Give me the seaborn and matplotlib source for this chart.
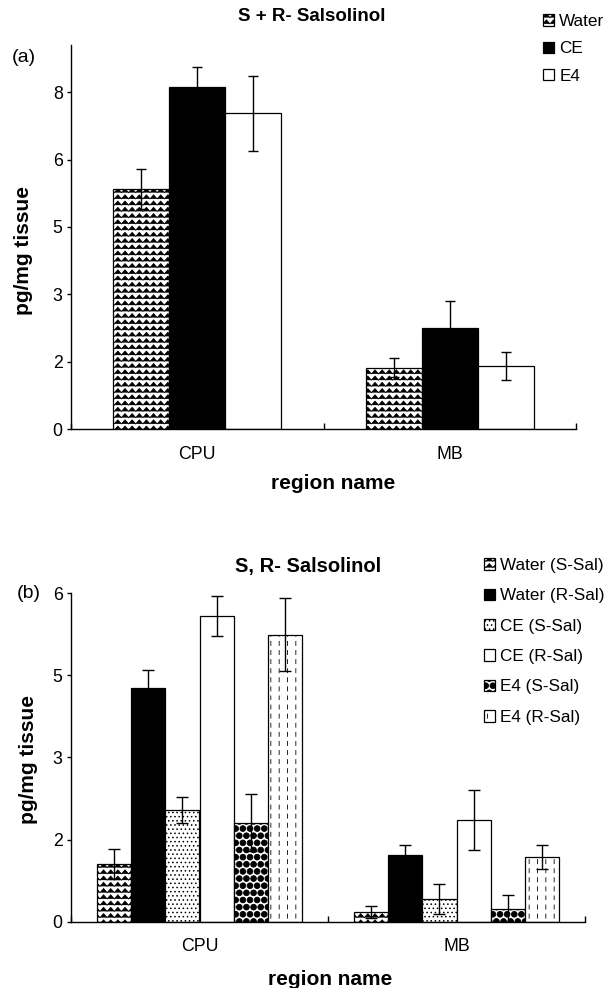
import numpy as np
import pandas as pd
import matplotlib
matplotlib.use("Agg")
import matplotlib.pyplot as plt
import seaborn as sns
import matplotlib.hatch as mhatch
from matplotlib.path import Path
from matplotlib.patches import Patch, Rectangle

# ---------------- data ----------------
REGIONS = ["CPU", "MB"]

GROUPS_A = ["Water", "CE", "E4"]
WATER_A = [5.70, 1.46]
WATER_A_ERR = [0.47, 0.23]
CE_A = [8.13, 2.39]
CE_A_ERR = [0.47, 0.65]
E4_A = [7.50, 1.50]
E4_A_ERR = [0.89, 0.34]
YTICKS_A = [0, 1.6, 3.2, 4.8, 6.4, 8.0]
YLABELS_A = ["0", "2", "3", "5", "6", "8"]

GROUPS_B = ["Water (S-Sal)", "Water (R-Sal)", "CE (S-Sal)", "CE (R-Sal)", "E4 (S-Sal)", "E4 (R-Sal)"]
WATER_S_B = [1.05, 0.18]
WATER_S_B_ERR = [0.27, 0.11]
WATER_R_B = [4.27, 1.21]
WATER_R_B_ERR = [0.33, 0.19]
CE_S_B = [2.04, 0.41]
CE_S_B_ERR = [0.23, 0.27]
CE_R_B = [5.58, 1.86]
CE_R_B_ERR = [0.37, 0.55]
E4_S_B = [1.81, 0.24]
E4_S_B_ERR = [0.52, 0.25]
E4_R_B = [5.24, 1.18]
E4_R_B_ERR = [0.66, 0.22]
YTICKS_B = [0, 1.5, 3.0, 4.5, 6.0]
YLABELS_B = ["0", "2", "3", "5", "6"]

# ---------------- custom hatches ----------------
class ZigzagHatch(mhatch.HatchPatternBase):
    """'-' draws wavy zig-zag rows."""
    def __init__(self, hatch, density):
        self.num_rows = int((hatch.count('-') + hatch.count('+')) * density * 1.4)
        self.num_teeth = int(self.num_rows * 0.875)
        self.per_row = 2 * self.num_teeth + 1
        self.num_vertices = self.num_rows * self.per_row if self.num_rows else 0

    def set_vertices_and_codes(self, vertices, codes):
        if self.num_rows == 0:
            return
        step = 1.0 / self.num_rows
        amp = step * 0.32
        xs = np.linspace(0.0, 1.0, self.per_row)
        offs = np.where(np.arange(self.per_row) % 2 == 0, -amp, amp)
        for r in range(self.num_rows):
            y0 = (r + 0.5) * step
            s = r * self.per_row
            vertices[s:s + self.per_row, 0] = xs
            vertices[s:s + self.per_row, 1] = y0 + offs
            codes[s:s + self.per_row] = Path.LINETO
            codes[s] = Path.MOVETO


class DashedVerticalHatch(mhatch.HatchPatternBase):
    """'|' draws dashed vertical lines."""
    def __init__(self, hatch, density):
        self.num_lines = int((hatch.count('|') + hatch.count('+')) * density)
        self.num_dashes = 11
        self.num_vertices = self.num_lines * self.num_dashes * 2

    def set_vertices_and_codes(self, vertices, codes):
        if self.num_lines == 0:
            return
        xs = (np.arange(self.num_lines) + 0.5) / self.num_lines
        period = 1.0 / self.num_dashes
        starts = np.arange(self.num_dashes) * period
        i = 0
        for x in xs:
            for s0 in starts:
                vertices[i] = (x, s0)
                vertices[i + 1] = (x, s0 + period * 0.45)
                codes[i] = Path.MOVETO
                codes[i + 1] = Path.LINETO
                i += 2


class BigFilledCircles(mhatch.Circles):
    """'*' draws packed filled beads."""
    size = 0.40
    filled = True

    def __init__(self, hatch, density):
        n = int(hatch.count('*') * density * 1.2)
        self.num_rows = n - (n % 2)
        super().__init__(hatch, density)


_repl = {"HorizontalHatch": ZigzagHatch, "VerticalHatch": DashedVerticalHatch,
         "Stars": BigFilledCircles}
for _i, _cls in enumerate(list(mhatch._hatch_types)):
    if _cls.__name__ in _repl:
        mhatch._hatch_types[_i] = _repl[_cls.__name__]

# ---------------- style ----------------
sns.set_style("ticks")
plt.rcParams["font.family"] = ["Liberation Sans", "DejaVu Sans"]
plt.rcParams["hatch.linewidth"] = 0.6
plt.rcParams["axes.linewidth"] = 1.0
for k in ("text.color", "axes.labelcolor", "xtick.color", "ytick.color", "axes.edgecolor"):
    plt.rcParams[k] = "black"

STYLE_A = {
    "Water": dict(fc="white", hatch="--", hc="black"),
    "CE": dict(fc="black", hatch=None, hc="black"),
    "E4": dict(fc="white", hatch=None, hc="black"),
}
STYLE_B = {
    "Water (S-Sal)": dict(fc="white", hatch="--", hc="black"),
    "Water (R-Sal)": dict(fc="black", hatch=None, hc="black"),
    "CE (S-Sal)": dict(fc="white", hatch="....", hc="black"),
    "CE (R-Sal)": dict(fc="white", hatch=None, hc="black"),
    "E4 (S-Sal)": dict(fc="white", hatch="**", hc="black"),
    "E4 (R-Sal)": dict(fc="white", hatch="||", hc="black"),
}

fig = plt.figure(figsize=(6.11, 9.88), dpi=100)
W, H = 611.0, 988.0


def add_axes_px(left, top, right, bottom):
    return fig.add_axes([left / W, 1 - bottom / H, (right - left) / W, (bottom - top) / H])


def draw_panel(ax, groups, values, errors, styles, width, yticks, ylabels, ytop, capsize):
    rows = []
    for g, vals in zip(groups, values):
        for r, v in zip(REGIONS, vals):
            rows.append({"region": r, "group": g, "value": v})
    df = pd.DataFrame(rows)
    sns.barplot(data=df, x="region", y="value", hue="group", order=REGIONS,
                hue_order=groups, width=width, gap=0, errorbar=None,
                palette=["white"] * len(groups), legend=False, ax=ax, zorder=2)
    for g, cont, vals, errs in zip(groups, ax.containers, values, errors):
        st = styles[g]
        xs = []
        for p in cont.patches:
            p.set_facecolor(st["fc"])
            p.set_edgecolor(st["hc"])
            p.set_linewidth(0.9)
            if st["hatch"]:
                p.set_hatch(st["hatch"])
            if st["hc"] != "black":
                ax.add_patch(Rectangle((p.get_x(), p.get_y()), p.get_width(), p.get_height(),
                                       fill=False, edgecolor="black", linewidth=0.9, zorder=2.5))
            xs.append(p.get_x() + p.get_width() / 2)
        ax.errorbar(xs, vals, yerr=errs, fmt="none", ecolor="black", elinewidth=1.0,
                    capsize=capsize, capthick=1.0, zorder=3)
    ax.set_xlim(-0.5, 1.5)
    ax.set_ylim(0, ytop)
    ax.set_yticks(yticks)
    ax.set_yticklabels(ylabels)
    ax.set_xticks([0, 1])
    ax.set_xticklabels(REGIONS)
    ax.set_xticks([-0.5, 0.5, 1.5], minor=True)
    ax.tick_params(axis="x", which="major", length=0, pad=12, labelsize=12.8)
    ax.tick_params(axis="x", which="minor", direction="in", length=4, width=1.0)
    ax.tick_params(axis="y", which="major", direction="out", length=3, width=1.0, pad=3,
                   labelsize=12.8)
    for s in ("top", "right"):
        ax.spines[s].set_visible(False)
    ax.set_facecolor("white")


def legend_handles(groups, styles):
    hs = []
    for g in groups:
        st = styles[g]
        base = Patch(facecolor=st["fc"], edgecolor=st["hc"], hatch=st["hatch"], linewidth=0.9)
        if st["hc"] != "black":
            outline = Patch(facecolor="none", edgecolor="black", linewidth=0.9)
            hs.append((base, outline))
        else:
            hs.append(base)
    return hs


# ---------- panel (a) ----------
axA = add_axes_px(71, 45, 576, 429)
draw_panel(axA, GROUPS_A, [WATER_A, CE_A, E4_A], [WATER_A_ERR, CE_A_ERR, E4_A_ERR],
           STYLE_A, 0.665, YTICKS_A, YLABELS_A, 9.12, 3.6)
axA.set_title("S + R- Salsolinol", fontsize=13.5, fontweight="bold", x=0.477, pad=17)
axA.set_ylabel("pg/mg tissue", fontsize=15, fontweight="bold")
axA.set_xlabel("region name", fontsize=15, fontweight="bold")
axA.yaxis.set_label_coords(-0.075, 0.464)
axA.xaxis.set_label_coords(0.52, -0.118)
fig.text(12 / W, 1 - 57 / H, "(a)", fontsize=14, va="center", ha="left")
fig.legend(legend_handles(GROUPS_A, STYLE_A), GROUPS_A, loc="upper left",
           bbox_to_anchor=(543 / W, 1 - 14 / H), frameon=False, fontsize=12.3,
           handlelength=0.65, handleheight=0.65, handletextpad=0.3, labelspacing=0.72,
           borderpad=0, borderaxespad=0)

# ---------- panel (b) ----------
axB = add_axes_px(71, 593, 585, 921.7)
draw_panel(axB, GROUPS_B,
           [WATER_S_B, WATER_R_B, CE_S_B, CE_R_B, E4_S_B, E4_R_B],
           [WATER_S_B_ERR, WATER_R_B_ERR, CE_S_B_ERR, CE_R_B_ERR, E4_S_B_ERR, E4_R_B_ERR],
           STYLE_B, 0.80, YTICKS_B, YLABELS_B, 6.0, 4.3)
axB.set_title("S, R- Salsolinol", fontsize=14.5, fontweight="bold", x=0.461, pad=15)
axB.set_ylabel("pg/mg tissue", fontsize=15, fontweight="bold")
axB.set_xlabel("region name", fontsize=15, fontweight="bold")
axB.yaxis.set_label_coords(-0.064, 0.492)
axB.xaxis.set_label_coords(0.504, -0.147)
fig.text(17 / W, 1 - 593 / H, "(b)", fontsize=14, va="center", ha="left")
fig.legend(legend_handles(GROUPS_B, STYLE_B), GROUPS_B, loc="upper left",
           bbox_to_anchor=(484 / W, 1 - 558 / H), frameon=False, fontsize=12.3,
           handlelength=0.65, handleheight=0.65, handletextpad=0.3, labelspacing=0.9,
           borderpad=0, borderaxespad=0)

fig.savefig("out.png", dpi=100, facecolor="white")
